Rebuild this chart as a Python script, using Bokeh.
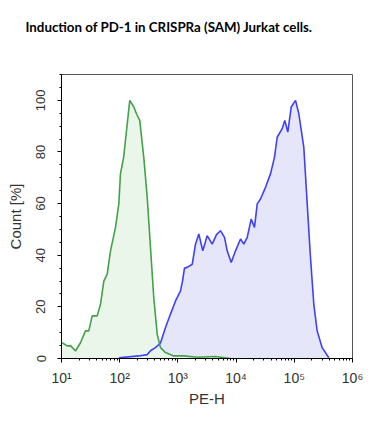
import numpy as np
from bokeh.plotting import figure
from bokeh.models import Range1d, LogTicker, FixedTicker, Title
from bokeh.embed import file_html
from bokeh.resources import INLINE

title_text = "Induction of PD-1 in CRISPRa (SAM) Jurkat cells."
x_label = "PE-H"
y_label = "Count [%]"

x_ticks = [10, 100, 1000, 10000, 100000, 1000000]
x_tick_labels = ["10¹", "10²", "10³", "10⁴", "10⁵", "10⁶"]
y_ticks = [0, 20, 40, 60, 80, 100]

# Isotype / control (green)
green_x = [10.3, 12.5, 14.3, 17.4, 21.2, 25.8, 29.4, 33.7, 41, 46.8, 53.3, 61, 69.5,
           84.7, 96.6, 103, 117, 131, 149, 175, 194, 221, 259, 297, 338, 385, 441,
           502, 612, 851, 1250, 2150, 4430, 8010]
green_y = [6.1, 4.9, 5.0, 2.9, 6.1, 10.7, 10.7, 16.5, 16.5, 21, 30, 32.7, 41.7,
           50.8, 59.9, 71.5, 78, 88.3, 100, 97.4, 94.8, 92.2, 78, 62.4, 43, 23.6, 9.4,
           4.2, 2.3, 1.0, 1.0, 0.5, 0.8, 0.0]

# PD-1 activated (blue)
blue_x = [96.6, 213, 297, 338, 412, 502, 612, 746, 910, 1109, 1200, 1298, 1445, 1762,
          2006, 2287, 2679, 3187, 3884, 4603, 5393, 6320, 7031, 8239, 9772, 11910,
          13560, 15520, 18170, 20700, 23050, 26250, 32000, 39000, 45700, 50800, 61900,
          68700, 77300, 88500, 105000, 119500, 145600, 166600, 189700, 216400, 247000,
          301000, 392000]
blue_y = [0.3, 1.0, 1.5, 3.0, 4.2, 6.0, 12, 17.2, 22.3, 26.2, 30, 35, 35.3, 36.5,
          44.3, 48.2, 41.7, 47.6, 44.3, 48, 49.5, 46.9, 41.7, 37.2, 41.7, 46.3,
          44.3, 46.9, 54, 50.8, 59.9, 61.8, 66.3, 71.5, 78, 85.7, 89,
          92.2, 87.7, 97.4, 100, 94.8, 81.9, 59.9, 39.1, 21, 10.7,
          4.2, 0.3]

p = figure(width=376, height=445, x_axis_type="log",
           x_range=Range1d(10, 1e6), y_range=Range1d(0, 110),
           output_backend="svg", toolbar_location=None,
           min_border_left=61, min_border_right=24,
           min_border_top=74, min_border_bottom=87)

p.background_fill_color = "white"
p.border_fill_color = "white"
p.outline_line_color = "#555555"
p.outline_line_width = 1
p.grid.visible = False

# blank spacer title next to the frame, real title outermost
p.add_layout(Title(text=" ", text_font_size="12px", standoff=24), "above")
p.title.text = title_text
p.title.align = "left"
p.title.offset = -36
p.title.standoff = 0
p.title.text_font = "Lato"
p.title.text_font_style = "bold"
p.title.text_font_size = "13.3px"
p.title.text_color = "black"

p.varea(x=blue_x, y1=0, y2=blue_y, fill_color="#e6e6fb")
p.varea(x=green_x, y1=0, y2=green_y, fill_color="#e8f4e8", fill_alpha=0.85)
p.line(blue_x, blue_y, line_color="#4040f8", line_width=1.6)
p.line(green_x, green_y, line_color="#44a04a", line_width=1.6)

label_font = "Liberation Sans"
label_color = "#333333"

xa = p.xaxis[0]
xa.ticker = LogTicker(mantissas=[1], desired_num_ticks=6, num_minor_ticks=10)
xa.major_label_overrides = {t: l for t, l in zip(x_ticks, x_tick_labels)}
xa.axis_label = x_label
xa.axis_label_text_font = label_font
xa.axis_label_text_font_style = "normal"
xa.axis_label_text_font_size = "15px"
xa.axis_label_text_color = label_color
xa.axis_label_standoff = 1
xa.major_label_text_font = label_font
xa.major_label_text_font_size = "14px"
xa.major_label_text_color = label_color
xa.major_label_standoff = 7
xa.major_tick_out = 4
xa.major_tick_in = 0
xa.minor_tick_out = 2
xa.minor_tick_in = 0
xa.axis_line_color = "black"

ya = p.yaxis[0]
ya.ticker = FixedTicker(ticks=y_ticks, minor_ticks=list(range(0, 111, 5)))
ya.axis_label = y_label
ya.axis_label_text_font = label_font
ya.axis_label_text_font_style = "normal"
ya.axis_label_text_font_size = "15px"
ya.axis_label_text_color = label_color
ya.axis_label_standoff = 10
ya.major_label_text_font = label_font
ya.major_label_text_font_size = "13px"
ya.major_label_text_color = label_color
ya.major_label_orientation = "vertical"
ya.major_label_standoff = 12
ya.major_tick_out = 4
ya.major_tick_in = 0
ya.minor_tick_out = 2
ya.minor_tick_in = 0
ya.axis_line_color = "black"

open("out.html", "w").write(file_html(p, INLINE))
